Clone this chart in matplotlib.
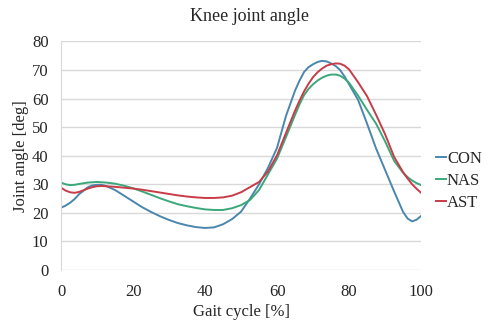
import matplotlib
matplotlib.use('Agg')
import matplotlib.pyplot as plt

# Gait cycle [%]
gait = [0, 1.25, 2.5, 3.75, 5, 7.5, 8.75, 10, 11.25, 12.5, 15, 17.5, 20, 22.5, 25, 27.5,
        30, 32.5, 35, 37.5, 40, 42.5, 45, 47.5, 50, 52.5, 55, 57.5, 60, 62.5, 65, 66.25,
        67.5, 68.75, 70, 71.25, 72.5, 73.75, 75, 76.25, 77.5, 78.75, 80, 82.5, 85, 87.5,
        90, 92.5, 95, 96.25, 97.5, 98.75, 100]

# Knee joint angle [deg]
con = [21.8, 22.5, 23.5, 24.8, 26.5, 29.0, 29.6, 29.8, 29.8, 29.4, 28.0, 26.0, 24.0, 22.0, 20.3, 18.8,
       17.5, 16.4, 15.6, 15.0, 14.7, 14.9, 16.0, 17.8, 20.4, 25.0, 30.0, 35.8, 42.8, 54.0, 62.8, 66.3,
       69.3, 71.0, 72.0, 72.8, 73.2, 73.0, 72.3, 71.4, 70.0, 67.7, 65.0, 59.5, 51.2, 42.5,
       35.0, 27.5, 20.3, 18.0, 17.0, 17.6, 18.9]
nas = [30.6, 30.0, 29.7, 29.8, 30.1, 30.6, 30.7, 30.8, 30.7, 30.6, 30.2, 29.5, 28.6, 27.5, 26.3, 25.1,
       24.0, 23.0, 22.3, 21.7, 21.2, 21.0, 21.0, 21.6, 22.7, 24.5, 28.0, 33.5, 39.0, 46.6, 54.3, 58.0,
       61.2, 63.4, 65.0, 66.3, 67.3, 68.0, 68.4, 68.4, 68.0, 67.0, 65.5, 61.0, 56.0, 51.2,
       45.0, 38.2, 34.0, 32.5, 31.3, 30.4, 29.7]
ast = [28.8, 27.8, 27.2, 27.0, 27.3, 28.5, 29.0, 29.3, 29.4, 29.3, 29.1, 28.8, 28.5, 28.1, 27.6, 27.1,
       26.6, 26.1, 25.7, 25.4, 25.2, 25.2, 25.4, 26.0, 27.2, 29.0, 30.8, 34.5, 40.2, 48.0, 55.8, 59.3,
       62.5, 65.2, 67.5, 69.2, 70.5, 71.5, 72.0, 72.3, 72.2, 71.5, 70.2, 65.7, 60.8, 54.3,
       47.5, 39.6, 34.2, 32.0, 30.0, 28.4, 27.0]

labels = ['CON', 'NAS', 'AST']
colors = ['#4a86ad', '#3aa87a', '#c83c48']

plt.rcParams['font.family'] = ['Liberation Serif', 'DejaVu Serif']
text_color = '#262626'

fig = plt.figure(figsize=(4.96, 3.21), dpi=100)
ax = fig.add_axes([0.123, 0.159, 0.726, 0.712])

for y, lab, c in zip([con, nas, ast], labels, colors):
    ax.plot(gait, y, color=c, lw=1.4, label=lab, solid_joinstyle='round')

ax.set_xlim(0, 100)
ax.set_ylim(0, 80)
ax.set_xticks(range(0, 101, 20))
ax.set_yticks(range(0, 81, 10))
ax.grid(axis='y', color='#d9d9d9', lw=1)
ax.set_axisbelow(True)
for s in ['top', 'right', 'bottom']:
    ax.spines[s].set_visible(False)
ax.spines['left'].set_color('#d9d9d9')
ax.tick_params(length=0, labelsize=12, colors=text_color)
ax.tick_params(axis='x', pad=10)
ax.tick_params(axis='y', pad=9)

ax.set_xlabel('Gait cycle [%]', fontsize=12, color=text_color, labelpad=3)
ax.set_ylabel('Joint angle [deg]', fontsize=12, color=text_color, labelpad=2)
fig.text(0.504, 0.95, 'Knee joint angle', ha='center', va='center', fontsize=13, color=text_color)

ax.legend(loc='center left', bbox_to_anchor=(1.0, 0.39), frameon=False, fontsize=12,
          handlelength=0.6, handletextpad=0.05, labelspacing=0.35, labelcolor=text_color)

fig.savefig('out.png', dpi=100)
